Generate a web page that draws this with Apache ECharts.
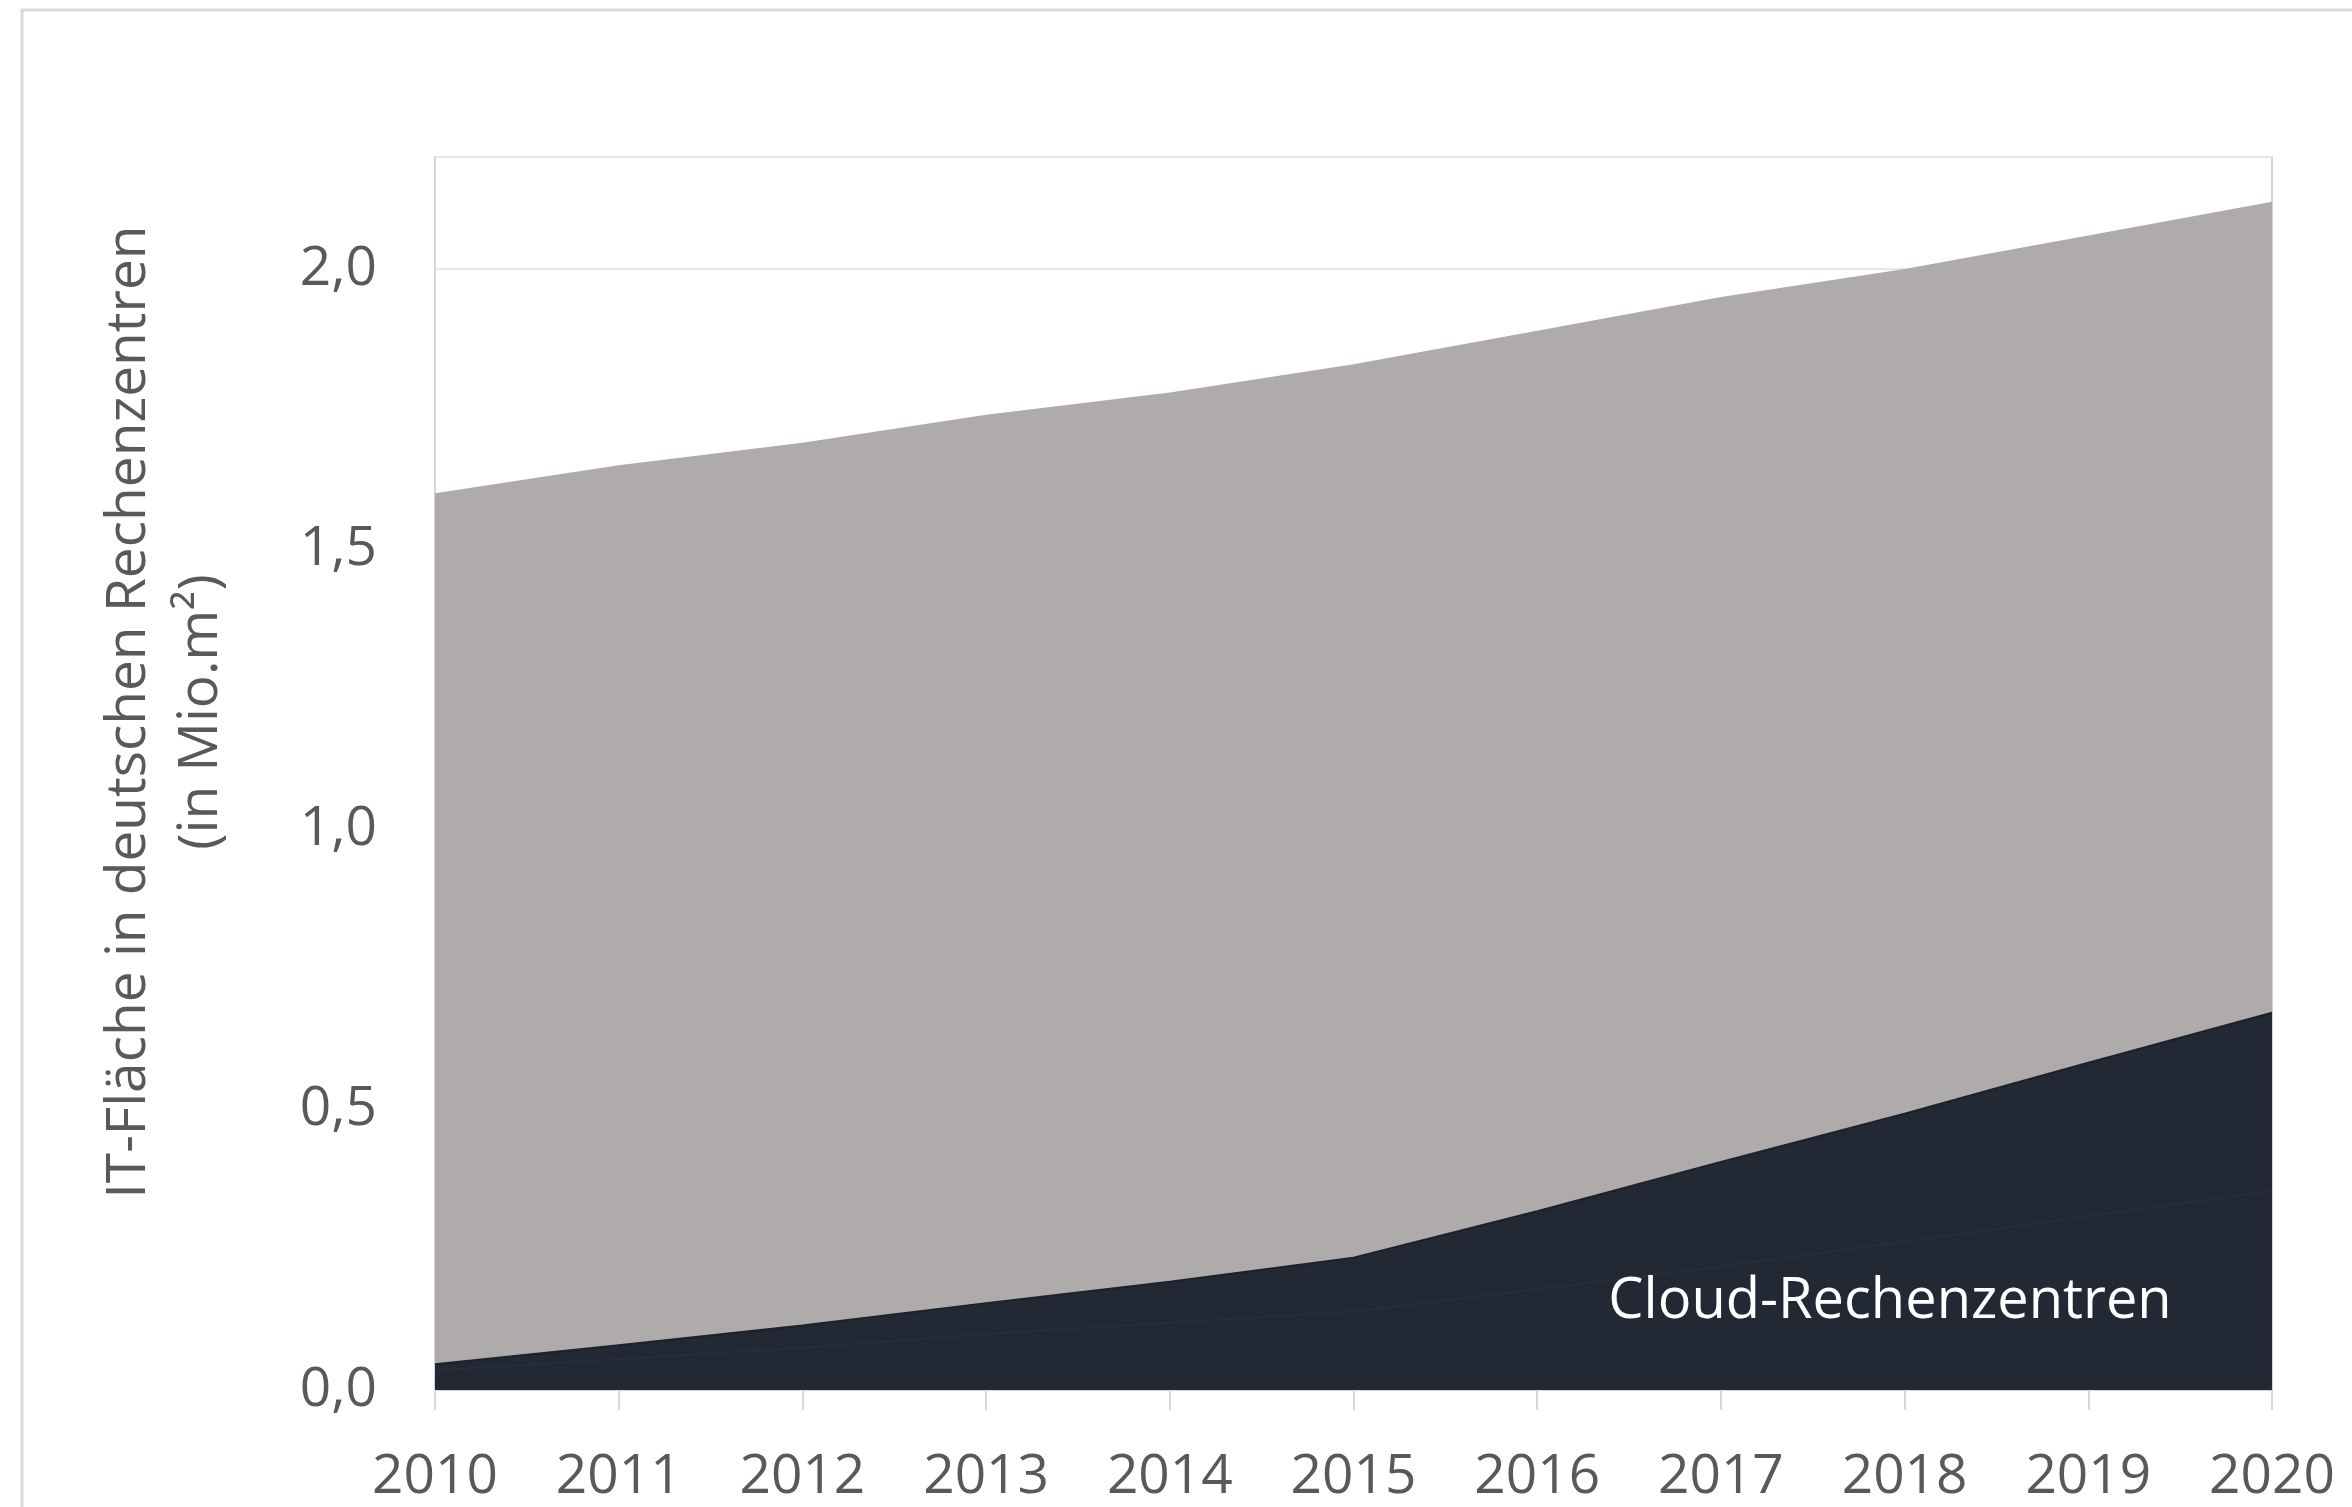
<!DOCTYPE html>
<html>
<head>
<meta charset="utf-8">
<script src="https://cdn.jsdelivr.net/npm/echarts@6/dist/echarts.min.js"></script>
<style>
  html, body { margin: 0; padding: 0; background: #ffffff; }
  #chart { width: 2352px; height: 1507px; }
</style>
</head>
<body>
<div id="chart"></div>
<script>
// Years on the horizontal axis
const years = ['2010', '2011', '2012', '2013', '2014', '2015', '2016', '2017', '2018', '2019', '2020'];

// Total IT floor space in German data centres (million m²)
const totalArea = [1.60, 1.65, 1.69, 1.74, 1.78, 1.83, 1.89, 1.95, 2.00, 2.06, 2.12];

// IT floor space in cloud data centres (million m²)
const cloudArea = [0.046, 0.080, 0.115, 0.155, 0.193, 0.236, 0.319, 0.407, 0.493, 0.584, 0.673];

// Inner split inside the cloud share (faint dotted boundary)
const cloudInner = [0.035, 0.055, 0.075, 0.100, 0.120, 0.140, 0.180, 0.220, 0.265, 0.310, 0.355];

// Value-axis tick labels
const yTicks = [0, 0.5, 1.0, 1.5, 2.0];

const FONT = '"Open Sans", "Noto Sans", sans-serif';
const TEXT = '#595959';
const GRAY = '#afabaa';
const DARK = '#222834';

const chart = echarts.init(document.getElementById('chart'), null, { renderer: 'canvas' });

chart.setOption({
  backgroundColor: '#ffffff',
  animation: false,
  grid: {
    left: 435, right: 80, top: 157, bottom: 117,
    show: true, borderColor: '#d4d4d4', borderWidth: 2, backgroundColor: 'transparent'
  },
  xAxis: {
    type: 'category',
    data: years,
    boundaryGap: false,
    axisLine: { show: true, lineStyle: { color: '#d4d4d4', width: 2 } },
    axisTick: { show: true, length: 20, lineStyle: { color: '#d9d9d9', width: 2 } },
    axisLabel: { color: TEXT, fontFamily: FONT, fontSize: 55, margin: 60 },
    splitLine: { show: false }
  },
  yAxis: {
    type: 'value',
    min: 0,
    max: 2.2,
    interval: 0.5,
    axisLine: { show: false },
    axisTick: { show: false },
    axisLabel: {
      color: TEXT, fontFamily: FONT, fontSize: 55, margin: 58,
      formatter: function (v) {
        return yTicks.some(t => Math.abs(t - v) < 1e-9) ? v.toFixed(1).replace('.', ',') : '';
      }
    },
    splitLine: { show: true, lineStyle: { color: '#e6e6e6', width: 2 } }
  },
  series: [
    {
      name: 'Rechenzentren gesamt',
      type: 'line',
      data: totalArea,
      symbol: 'none',
      lineStyle: { width: 0, color: GRAY },
      areaStyle: { color: GRAY, opacity: 1 },
      z: 1
    },
    {
      name: 'Cloud-Rechenzentren',
      type: 'line',
      data: cloudArea,
      symbol: 'none',
      lineStyle: { width: 2, color: '#1c212b' },
      areaStyle: { color: DARK, opacity: 1 },
      z: 2
    },
    {
      name: 'Cloud intern',
      type: 'line',
      data: cloudInner,
      symbol: 'none',
      lineStyle: { width: 2, color: '#2d3441', type: 'dotted' },
      z: 3
    }
  ],
  graphic: [
    {
      type: 'rect',
      shape: { x: 22, y: 10, width: 2400, height: 1600 },
      style: { fill: 'none', stroke: '#d9d9d9', lineWidth: 3 },
      silent: true, z: 0
    },
    {
      type: 'text',
      x: 165, y: 712,
      rotation: Math.PI / 2,
      style: {
        text: 'IT-Fläche in deutschen Rechenzentren\n(in Mio.m²)',
        fill: TEXT,
        font: '55px ' + FONT,
        align: 'center',
        verticalAlign: 'middle',
        lineHeight: 72
      },
      z: 10
    },
    {
      type: 'text',
      x: 1890, y: 1302,
      style: {
        text: 'Cloud-Rechenzentren',
        fill: '#ffffff',
        font: '56px ' + FONT,
        align: 'center',
        verticalAlign: 'middle'
      },
      z: 10
    }
  ]
});
</script>
</body>
</html>
